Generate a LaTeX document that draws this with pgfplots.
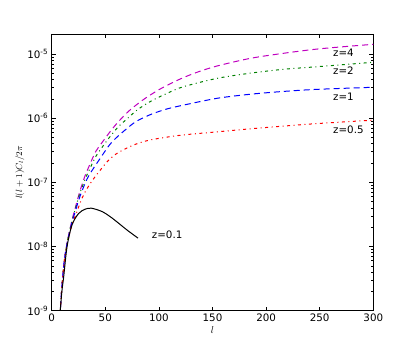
\documentclass[border=0pt]{standalone}
\usepackage{fontspec}
\setmainfont{DejaVu Sans}
\usepackage{pgfplots}
\pgfplotsset{compat=1.18}
\definecolor{mplm}{HTML}{BF00BF}
\definecolor{mplg}{HTML}{008000}
\definecolor{mplb}{HTML}{0000FF}
\definecolor{mplr}{HTML}{FF0000}
\begin{document}
\begin{tikzpicture}[x=1bp,y=1bp]
\path[use as bounding box] (0,0) rectangle (415,346);
\begin{axis}[
  at={(51.7bp,35.3bp)}, anchor=south west,
  scale only axis, width=321.6bp, height=276.7bp,
  ymode=log, xmin=0, xmax=300, ymin=1e-9, ymax=2.04e-5,
  xtick={0,50,100,150,200,250,300},
  ytick={1e-9,1e-8,1e-7,1e-6,1e-5},
  yticklabels={10\textsuperscript{-9},10\textsuperscript{-8},10\textsuperscript{-7},10\textsuperscript{-6},10\textsuperscript{-5}},
  xticklabels={0,50,100,150,200,250,300},
  tick align=inside, major tick length=4bp, minor tick length=2bp,
  tick style={black, line width=0.5bp},
  axis line style={line width=0.8bp},
  ticklabel style={font=\fontsize{10.3bp}{12bp}\selectfont},
  xlabel={$l$}, ylabel={$l(l+1)C_l/2\pi$},
  xlabel style={at={(axis description cs:0.5,-0.07)}, anchor=center, font=\fontsize{10bp}{12bp}\selectfont},
  ylabel style={at={(axis description cs:-0.099,0.5)}, anchor=center, font=\fontsize{9bp}{11bp}\selectfont},
  clip=true,
]
\addplot[mplm, line width=1bp, dash pattern=on 6bp off 4bp, smooth] coordinates {
(7.5,5.5e-10)(8,1e-9)(10,3e-9)(12,6.5e-9)(15,1.3e-8)(19,2.6e-8)(22,4e-8)(26,7e-8)(31,1.25e-7)(35,1.8e-7)(41,3e-7)(47,4.17e-7)(55,6.3e-7)(62,8.7e-7)(72,1.29e-6)(84,1.86e-6)(92,2.29e-6)(103,2.95e-6)(120,4.07e-6)(135,5.13e-6)(154,6.46e-6)(185,8.5e-6)(216,1.02e-5)(250,1.2e-5)(300,1.41e-5)};
\addplot[mplg, line width=1bp, dash pattern=on 3bp off 3.5bp on 1bp off 3.5bp, smooth] coordinates {
(7.5,5.5e-10)(8,1e-9)(10,3e-9)(12,6.5e-9)(15,1.3e-8)(19,2.5e-8)(22,3.8e-8)(26,6.5e-8)(31,1.1e-7)(35,1.55e-7)(41,2.5e-7)(47,3.5e-7)(53,4.8e-7)(62,7.3e-7)(69,9.3e-7)(80,1.35e-6)(93,1.85e-6)(107,2.4e-6)(122,3.05e-6)(154,4.15e-6)(185,5e-6)(216,5.75e-6)(247,6.3e-6)(300,7.4e-6)};
\addplot[mplb, line width=1bp, dash pattern=on 6bp off 4bp, smooth] coordinates {
(7.5,5.5e-10)(8,1e-9)(10,3e-9)(12,6.5e-9)(15,1.25e-8)(19,2.4e-8)(22,3.5e-8)(26,5.8e-8)(31,9.5e-8)(35,1.3e-7)(44,2.2e-7)(56,4.2e-7)(72,7.3e-7)(80,9.1e-7)(93,1.15e-6)(107,1.38e-6)(122,1.58e-6)(154,2.03e-6)(185,2.35e-6)(216,2.6e-6)(247,2.8e-6)(300,3.02e-6)};
\addplot[mplr, line width=1bp, dash pattern=on 3bp off 3.5bp on 1bp off 3.5bp, smooth] coordinates {
(7.5,5.5e-10)(8,1e-9)(10,3e-9)(12,6.3e-9)(15,1.2e-8)(19,2.2e-8)(23,3.3e-8)(27,5e-8)(31,7e-8)(37.6,1.05e-7)(46,1.6e-7)(53,2.2e-7)(62,2.9e-7)(78,3.9e-7)(93,4.6e-7)(120,5.4e-7)(154,6.1e-7)(185,6.8e-7)(216,7.5e-7)(247,8.2e-7)(300,9.3e-7)};
\addplot[black, line width=1bp, smooth] coordinates {
(7.5,6e-10)(8,1e-9)(9.5,2e-9)(11.2,3.4e-9)(14.3,9.9e-9)(18.9,2.16e-8)(25,3.25e-8)(31,3.8e-8)(37,3.95e-8)(47,3.5e-8)(55,2.88e-8)(62.5,2.3e-8)(70,1.82e-8)(80.5,1.35e-8)};
\node[anchor=west, inner sep=0pt, font=\fontsize{10.3bp}{12bp}\selectfont] at (axis cs:262.4,1.03e-5) {z=4};
\node[anchor=west, inner sep=0pt, font=\fontsize{10.3bp}{12bp}\selectfont] at (axis cs:262.4,5.47e-6) {z=2};
\node[anchor=west, inner sep=0pt, font=\fontsize{10.3bp}{12bp}\selectfont] at (axis cs:262.4,2.15e-6) {z=1};
\node[anchor=west, inner sep=0pt, font=\fontsize{10.3bp}{12bp}\selectfont] at (axis cs:262.4,6.68e-7) {z=0.5};
\node[anchor=west, inner sep=0pt, font=\fontsize{10.3bp}{12bp}\selectfont] at (axis cs:93.3,1.55e-8) {z=0.1};
\end{axis}
\end{tikzpicture}
\end{document}
